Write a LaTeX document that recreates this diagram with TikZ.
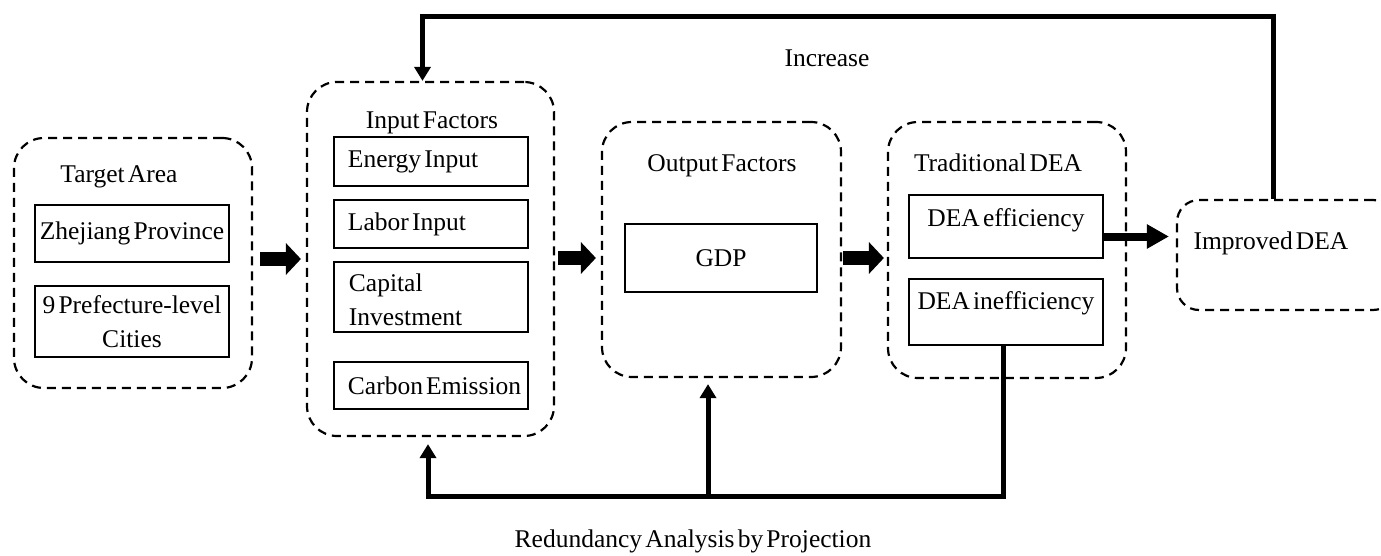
\documentclass[tikz,border=0pt]{standalone}
\usepackage{fontspec}
\setmainfont{Liberation Serif}
\usetikzlibrary{arrows.meta}

\newcommand{\diagfont}{\fontsize{25.5}{34}\selectfont\spaceskip=0.125em plus 0.05em minus 0.05em\relax}

\tikzset{
  group/.style={draw, dash pattern=on 9pt off 6pt, line width=2.2pt, rounded corners=30pt},
  box/.style={draw, line width=2.5pt, minimum width=194pt, inner sep=2pt},
  caption/.style={inner sep=0pt},
  bigarrow/.style={line width=14pt, -{Triangle[length=15pt,width=31pt]}},
  midarrow/.style={line width=8pt, -{Triangle[length=22pt,width=23pt]}},
  flow/.style={line width=5pt, -{Triangle[length=14pt,width=16pt]}},
}

\begin{document}
\begin{tikzpicture}[x=1pt, y=-1pt, every node/.append style={font=\diagfont}]
\clip (0,0) rectangle (1381,556);

% target area
\node[group, minimum width=238pt, minimum height=250pt] (target) at (133,263) {};
\node[caption] (targettitle) at (119,177) {Target Area};
\node[box, minimum height=57pt] (zhejiang) at (132,233.5) {Zhejiang Province};
\node[box, minimum height=71pt, align=center] (cities) at (132,321.5) {9 Prefecture-level\\Cities};

% input factors
\node[group, minimum width=247pt, minimum height=354pt] (input) at (430.5,259) {};
\node[caption] (inputtitle) at (432,123) {Input Factors};
\node[box, minimum height=49pt] (energy) at (431,161.5) {};
\node[box, minimum height=48pt] (labor) at (431,224) {};
\node[box, minimum height=70pt] (capital) at (431,297) {};
\node[box, minimum height=47pt] (carbon) at (431,385.5) {};
\node[caption, anchor=west] (energytext) at ([xshift=15pt]energy.west) {Energy Input};
\node[caption, anchor=west] (labortext) at ([xshift=15pt]labor.west) {Labor Input};
\node[caption, anchor=west, align=left] (capitaltext) at ([xshift=16pt,yshift=-3pt]capital.west) {Capital\\Investment};
\node[caption, anchor=west] (carbontext) at ([xshift=15pt]carbon.west) {Carbon Emission};

% output factors
\node[group, minimum width=239pt, minimum height=255pt] (output) at (721.5,249.5) {};
\node[caption] (outputtitle) at (722,166) {Output Factors};
\node[box, minimum width=192pt, minimum height=68pt] (gdp) at (721,258) {GDP};

% traditional DEA
\node[group, minimum width=238pt, minimum height=256pt] (trad) at (1007,250) {};
\node[caption] (tradtitle) at (998,163) {Traditional DEA};
\node[box, minimum height=63pt] (eff) at (1006,226.5) {\raisebox{6pt}[\height][\depth]{DEA efficiency}};
\node[box, minimum height=66pt] (ineff) at (1006,312) {\raisebox{9pt}[\height][\depth]{DEA inefficiency}};

% improved DEA
\node[group, rounded corners=22pt, minimum width=218pt, minimum height=110pt] (improved) at (1286,255) {};
\node[caption] (improvedtitle) at (1271,243) {Improved DEA};

% main flow
\draw[bigarrow] ([xshift=7pt]target.east |- input.west) -- ([xshift=-5pt]input.west);
\draw[bigarrow] ([xshift=3pt]input.east |- gdp.west) -- ([xshift=-5pt]output.west |- gdp.west);
\draw[bigarrow] ([xshift=1pt]output.east |- gdp.east) -- ([xshift=-3pt]trad.west |- gdp.east);
\draw[midarrow] ([yshift=-10pt]eff.east) -- ([xshift=-7pt,yshift=-10pt]eff.east -| improved.west);

% feedback loops
\draw[flow] ([xshift=-13pt]improved.north) -- ++(0,-182) -| ([xshift=-8pt]input.north);
\node[caption] (increase) at (827,58) {Increase};

\draw[flow] ([xshift=-3pt]ineff.south) -- ++(0,150) -| ([xshift=-2.5pt,yshift=-7pt]input.south);
\coordinate (fork) at (708,495);
\draw[flow] (fork) -- ([yshift=-6pt]output.south -| fork);
\node[caption] (redundancy) at (693,541) {Redundancy Analysis by Projection};
\end{tikzpicture}
\end{document}
